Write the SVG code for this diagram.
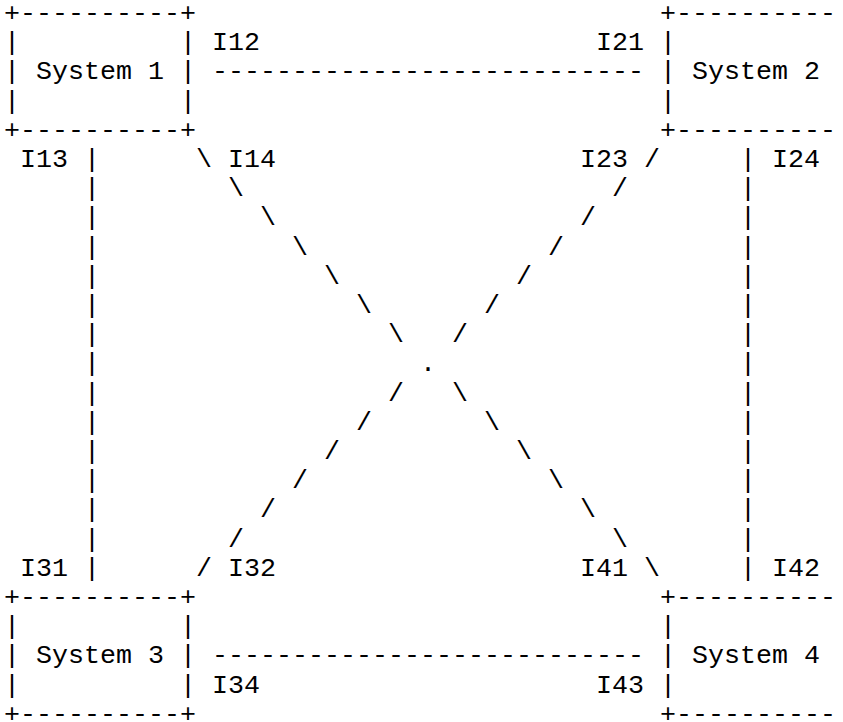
<svg xmlns="http://www.w3.org/2000/svg" width="843" height="722" viewBox="0 0 843 722">
<style>
text{font-family:"Liberation Mono","Courier New",monospace;font-size:26.67px;fill:#000}
</style>
<rect x="0" y="0" width="843" height="722" fill="#fff"/>
<g id="system1">
<text x="4" y="21">+----------+</text>
<text x="4" y="50.2">|</text><text x="180" y="50.2">|</text>
<text x="4" y="79.4">|</text><text x="36" y="79.4">System 1</text><text x="180" y="79.4">|</text>
<text x="4" y="108.6">|</text><text x="180" y="108.6">|</text>
<text x="4" y="137.8">+----------+</text>
</g>
<g id="system2">
<text x="660" y="21">+----------</text>
<text x="660" y="50.2">|</text>
<text x="660" y="79.4">|</text><text x="692" y="79.4">System 2</text>
<text x="660" y="108.6">|</text>
<text x="660" y="137.8">+----------</text>
</g>
<g id="system3">
<text x="4" y="605">+----------+</text>
<text x="4" y="634.2">|</text><text x="180" y="634.2">|</text>
<text x="4" y="663.4">|</text><text x="36" y="663.4">System 3</text><text x="180" y="663.4">|</text>
<text x="4" y="692.6">|</text><text x="180" y="692.6">|</text>
<text x="4" y="721.8">+----------+</text>
</g>
<g id="system4">
<text x="660" y="605">+----------</text>
<text x="660" y="634.2">|</text>
<text x="660" y="663.4">|</text><text x="692" y="663.4">System 4</text>
<text x="660" y="692.6">|</text>
<text x="660" y="721.8">+----------</text>
</g>
<g id="connectors">
<text x="212" y="79.4">---------------------------</text>
<text x="212" y="663.4">---------------------------</text>
<text x="84" y="167">|</text><text x="84" y="196.2">|</text><text x="84" y="225.4">|</text><text x="84" y="254.6">|</text><text x="84" y="283.8">|</text><text x="84" y="313">|</text><text x="84" y="342.2">|</text><text x="84" y="371.4">|</text><text x="84" y="400.6">|</text><text x="84" y="429.8">|</text><text x="84" y="459">|</text><text x="84" y="488.2">|</text><text x="84" y="517.4">|</text><text x="84" y="546.6">|</text><text x="84" y="575.8">|</text>
<text x="740" y="167">|</text><text x="740" y="196.2">|</text><text x="740" y="225.4">|</text><text x="740" y="254.6">|</text><text x="740" y="283.8">|</text><text x="740" y="313">|</text><text x="740" y="342.2">|</text><text x="740" y="371.4">|</text><text x="740" y="400.6">|</text><text x="740" y="429.8">|</text><text x="740" y="459">|</text><text x="740" y="488.2">|</text><text x="740" y="517.4">|</text><text x="740" y="546.6">|</text><text x="740" y="575.8">|</text>
<text x="196" y="167">\</text><text x="228" y="196.2">\</text><text x="260" y="225.4">\</text><text x="292" y="254.6">\</text><text x="324" y="283.8">\</text><text x="356" y="313">\</text><text x="388" y="342.2">\</text>
<text x="452" y="400.6">\</text><text x="484" y="429.8">\</text><text x="516" y="459">\</text><text x="548" y="488.2">\</text><text x="580" y="517.4">\</text><text x="612" y="546.6">\</text><text x="644" y="575.8">\</text>
<text x="644" y="167">/</text><text x="612" y="196.2">/</text><text x="580" y="225.4">/</text><text x="548" y="254.6">/</text><text x="516" y="283.8">/</text><text x="484" y="313">/</text><text x="452" y="342.2">/</text>
<text x="388" y="400.6">/</text><text x="356" y="429.8">/</text><text x="324" y="459">/</text><text x="292" y="488.2">/</text><text x="260" y="517.4">/</text><text x="228" y="546.6">/</text><text x="196" y="575.8">/</text>
<text x="420" y="371.4">.</text>
</g>
<g id="labels">
<text x="212" y="50.2">I12</text><text x="596" y="50.2">I21</text>
<text x="20" y="167">I13</text><text x="228" y="167">I14</text><text x="580" y="167">I23</text><text x="772" y="167">I24</text>
<text x="20" y="575.8">I31</text><text x="228" y="575.8">I32</text><text x="580" y="575.8">I41</text><text x="772" y="575.8">I42</text>
<text x="212" y="692.6">I34</text><text x="596" y="692.6">I43</text>
</g>
</svg>
